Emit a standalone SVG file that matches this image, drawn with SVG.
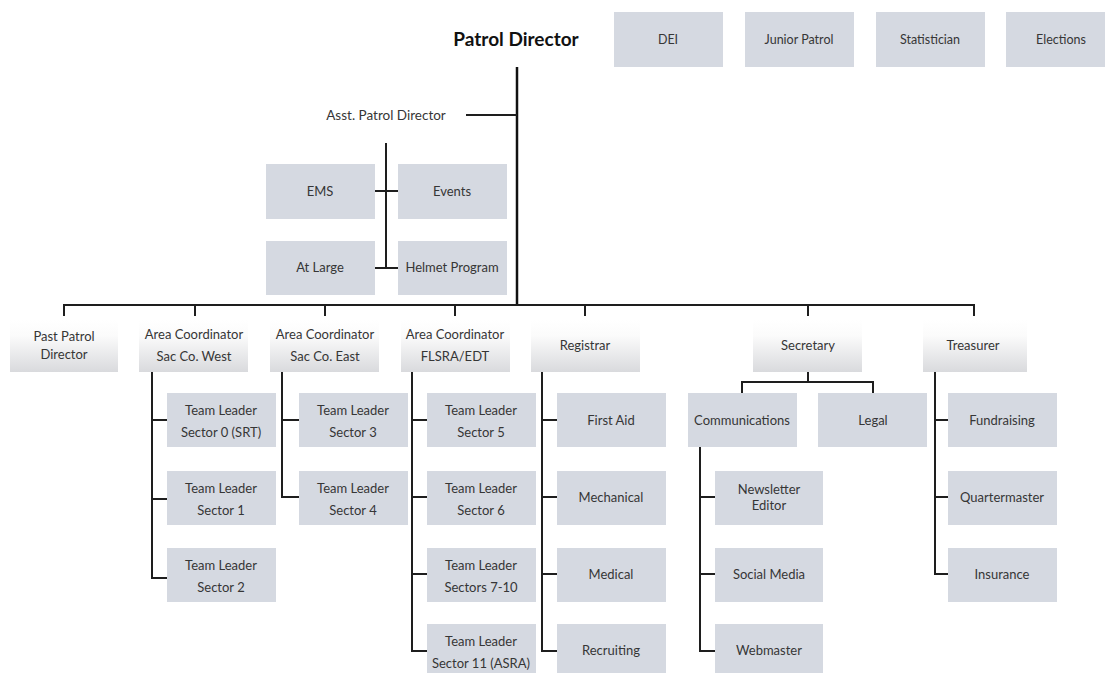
<svg xmlns="http://www.w3.org/2000/svg" width="1105" height="673" viewBox="0 0 1105 673">
<defs>
<linearGradient id="g2" x1="0" y1="0" x2="0" y2="1">
<stop offset="0" stop-color="#ffffff"/>
<stop offset="0.3" stop-color="#fbfbfb"/>
<stop offset="1" stop-color="#d9dadd"/>
</linearGradient>
</defs>
<style>
text{font-family:Lato,"Liberation Sans",sans-serif;font-size:13px;fill:#363636;text-anchor:middle}
.box{fill:#d5d9e1}
.gbox{fill:url(#g2)}
.title{font-size:19px;font-weight:bold;fill:#111}
.small{font-size:12.5px}
.asst{font-size:13.5px}
.c{stroke:#1e1e1e;stroke-width:2;fill:none}
.main{stroke:#111;stroke-width:2.5;fill:none}
</style>
<rect width="1105" height="673" fill="#ffffff"/>
<g id="connectors">
<path class="main" d="M517 67V305"/>
<path class="c" d="M466 115H517"/>
<path class="c" d="M386 143V268M375 191H398M375 268H398"/>
<path class="c" d="M64 316V305H974V316M195 305V316M325 305V316M455 305V316M585 305V316M808 305V316"/>
<path class="c" d="M152 372V578H167M152 420H167M152 499H167"/>
<path class="c" d="M282 372V497H299M282 420H299"/>
<path class="c" d="M412 372V651H427M412 420H427M412 497H427M412 574H427"/>
<path class="c" d="M542 372V651H557M542 420H557M542 497H557M542 574H557"/>
<path class="c" d="M808 372V382M742 393V382H873V393"/>
<path class="c" d="M700 447V651H715M700 497H715M700 574H715"/>
<path class="c" d="M935 372V574H948M935 420H948M935 497H948"/>
</g>
<g id="patrol-director"><text class="title" x="516" y="46">Patrol Director</text></g>
<g id="dei"><rect class="box" x="614" y="12" width="109" height="55"/><text class="small" x="668" y="44">DEI</text></g>
<g id="junior-patrol"><rect class="box" x="745" y="12" width="109" height="55"/><text class="small" x="799" y="44">Junior Patrol</text></g>
<g id="statistician"><rect class="box" x="876" y="12" width="109" height="55"/><text class="small" x="930" y="44">Statistician</text></g>
<g id="elections"><rect class="box" x="1006" y="12" width="109" height="55"/><text class="small" x="1061" y="44">Elections</text></g>
<g id="asst-patrol-director"><text class="asst" x="386" y="120">Asst. Patrol Director</text></g>
<g id="ems"><rect class="box" x="266" y="164" width="109" height="55"/><text x="320" y="196">EMS</text></g>
<g id="events"><rect class="box" x="398" y="164" width="109" height="55"/><text x="452" y="196">Events</text></g>
<g id="at-large"><rect class="box" x="266" y="241" width="109" height="54"/><text x="320" y="272">At Large</text></g>
<g id="helmet-program"><rect class="box" x="398" y="241" width="109" height="54"/><text x="452" y="272">Helmet Program</text></g>
<g id="past-patrol-director"><rect class="gbox" x="10" y="320" width="108" height="52"/><text x="64" y="341">Past Patrol</text><text x="64" y="359">Director</text></g>
<g id="ac-sac-west"><rect class="gbox" x="139" y="320" width="109" height="52"/><text x="194" y="339">Area Coordinator</text><text x="194" y="361">Sac Co. West</text></g>
<g id="ac-sac-east"><rect class="gbox" x="270" y="320" width="109" height="52"/><text x="325" y="339">Area Coordinator</text><text x="325" y="361">Sac Co. East</text></g>
<g id="ac-flsra"><rect class="gbox" x="401" y="320" width="109" height="52"/><text x="455" y="339">Area Coordinator</text><text x="455" y="361">FLSRA/EDT</text></g>
<g id="registrar"><rect class="gbox" x="531" y="320" width="109" height="52"/><text x="585" y="350">Registrar</text></g>
<g id="secretary"><rect class="gbox" x="753" y="320" width="109" height="52"/><text x="808" y="350">Secretary</text></g>
<g id="treasurer"><rect class="gbox" x="923" y="320" width="104" height="52"/><text x="973" y="350">Treasurer</text></g>
<g id="tl-sector0"><rect class="box" x="167" y="393" width="109" height="54"/><text x="221" y="415">Team Leader</text><text x="221" y="437">Sector 0 (SRT)</text></g>
<g id="tl-sector1"><rect class="box" x="167" y="471" width="109" height="54"/><text x="221" y="493">Team Leader</text><text x="221" y="515">Sector 1</text></g>
<g id="tl-sector2"><rect class="box" x="167" y="548" width="109" height="54"/><text x="221" y="570">Team Leader</text><text x="221" y="592">Sector 2</text></g>
<g id="tl-sector3"><rect class="box" x="299" y="393" width="109" height="54"/><text x="353" y="415">Team Leader</text><text x="353" y="437">Sector 3</text></g>
<g id="tl-sector4"><rect class="box" x="299" y="471" width="109" height="54"/><text x="353" y="493">Team Leader</text><text x="353" y="515">Sector 4</text></g>
<g id="tl-sector5"><rect class="box" x="427" y="393" width="109" height="54"/><text x="481" y="415">Team Leader</text><text x="481" y="437">Sector 5</text></g>
<g id="tl-sector6"><rect class="box" x="427" y="471" width="109" height="54"/><text x="481" y="493">Team Leader</text><text x="481" y="515">Sector 6</text></g>
<g id="tl-sectors7-10"><rect class="box" x="427" y="548" width="109" height="54"/><text x="481" y="570">Team Leader</text><text x="481" y="592">Sectors 7-10</text></g>
<g id="tl-sector11"><rect class="box" x="427" y="624" width="109" height="54"/><text x="481" y="646">Team Leader</text><text x="481" y="668">Sector 11 (ASRA)</text></g>
<g id="first-aid"><rect class="box" x="557" y="393" width="109" height="54"/><text x="611" y="425">First Aid</text></g>
<g id="mechanical"><rect class="box" x="557" y="471" width="109" height="54"/><text x="611" y="502">Mechanical</text></g>
<g id="medical"><rect class="box" x="557" y="548" width="109" height="54"/><text x="611" y="579">Medical</text></g>
<g id="recruiting"><rect class="box" x="557" y="624" width="109" height="54"/><text x="611" y="655">Recruiting</text></g>
<g id="communications"><rect class="box" x="688" y="393" width="109" height="54"/><text x="742" y="425">Communications</text></g>
<g id="legal"><rect class="box" x="818" y="393" width="109" height="54"/><text x="873" y="425">Legal</text></g>
<g id="newsletter-editor"><rect class="box" x="715" y="471" width="108" height="54"/><text x="769" y="494">Newsletter</text><text x="769" y="510">Editor</text></g>
<g id="social-media"><rect class="box" x="715" y="548" width="108" height="54"/><text x="769" y="579">Social Media</text></g>
<g id="webmaster"><rect class="box" x="715" y="624" width="108" height="54"/><text x="769" y="655">Webmaster</text></g>
<g id="fundraising"><rect class="box" x="948" y="393" width="109" height="54"/><text x="1002" y="425">Fundraising</text></g>
<g id="quartermaster"><rect class="box" x="948" y="471" width="109" height="54"/><text x="1002" y="502">Quartermaster</text></g>
<g id="insurance"><rect class="box" x="948" y="548" width="109" height="54"/><text x="1002" y="579">Insurance</text></g>
</svg>
